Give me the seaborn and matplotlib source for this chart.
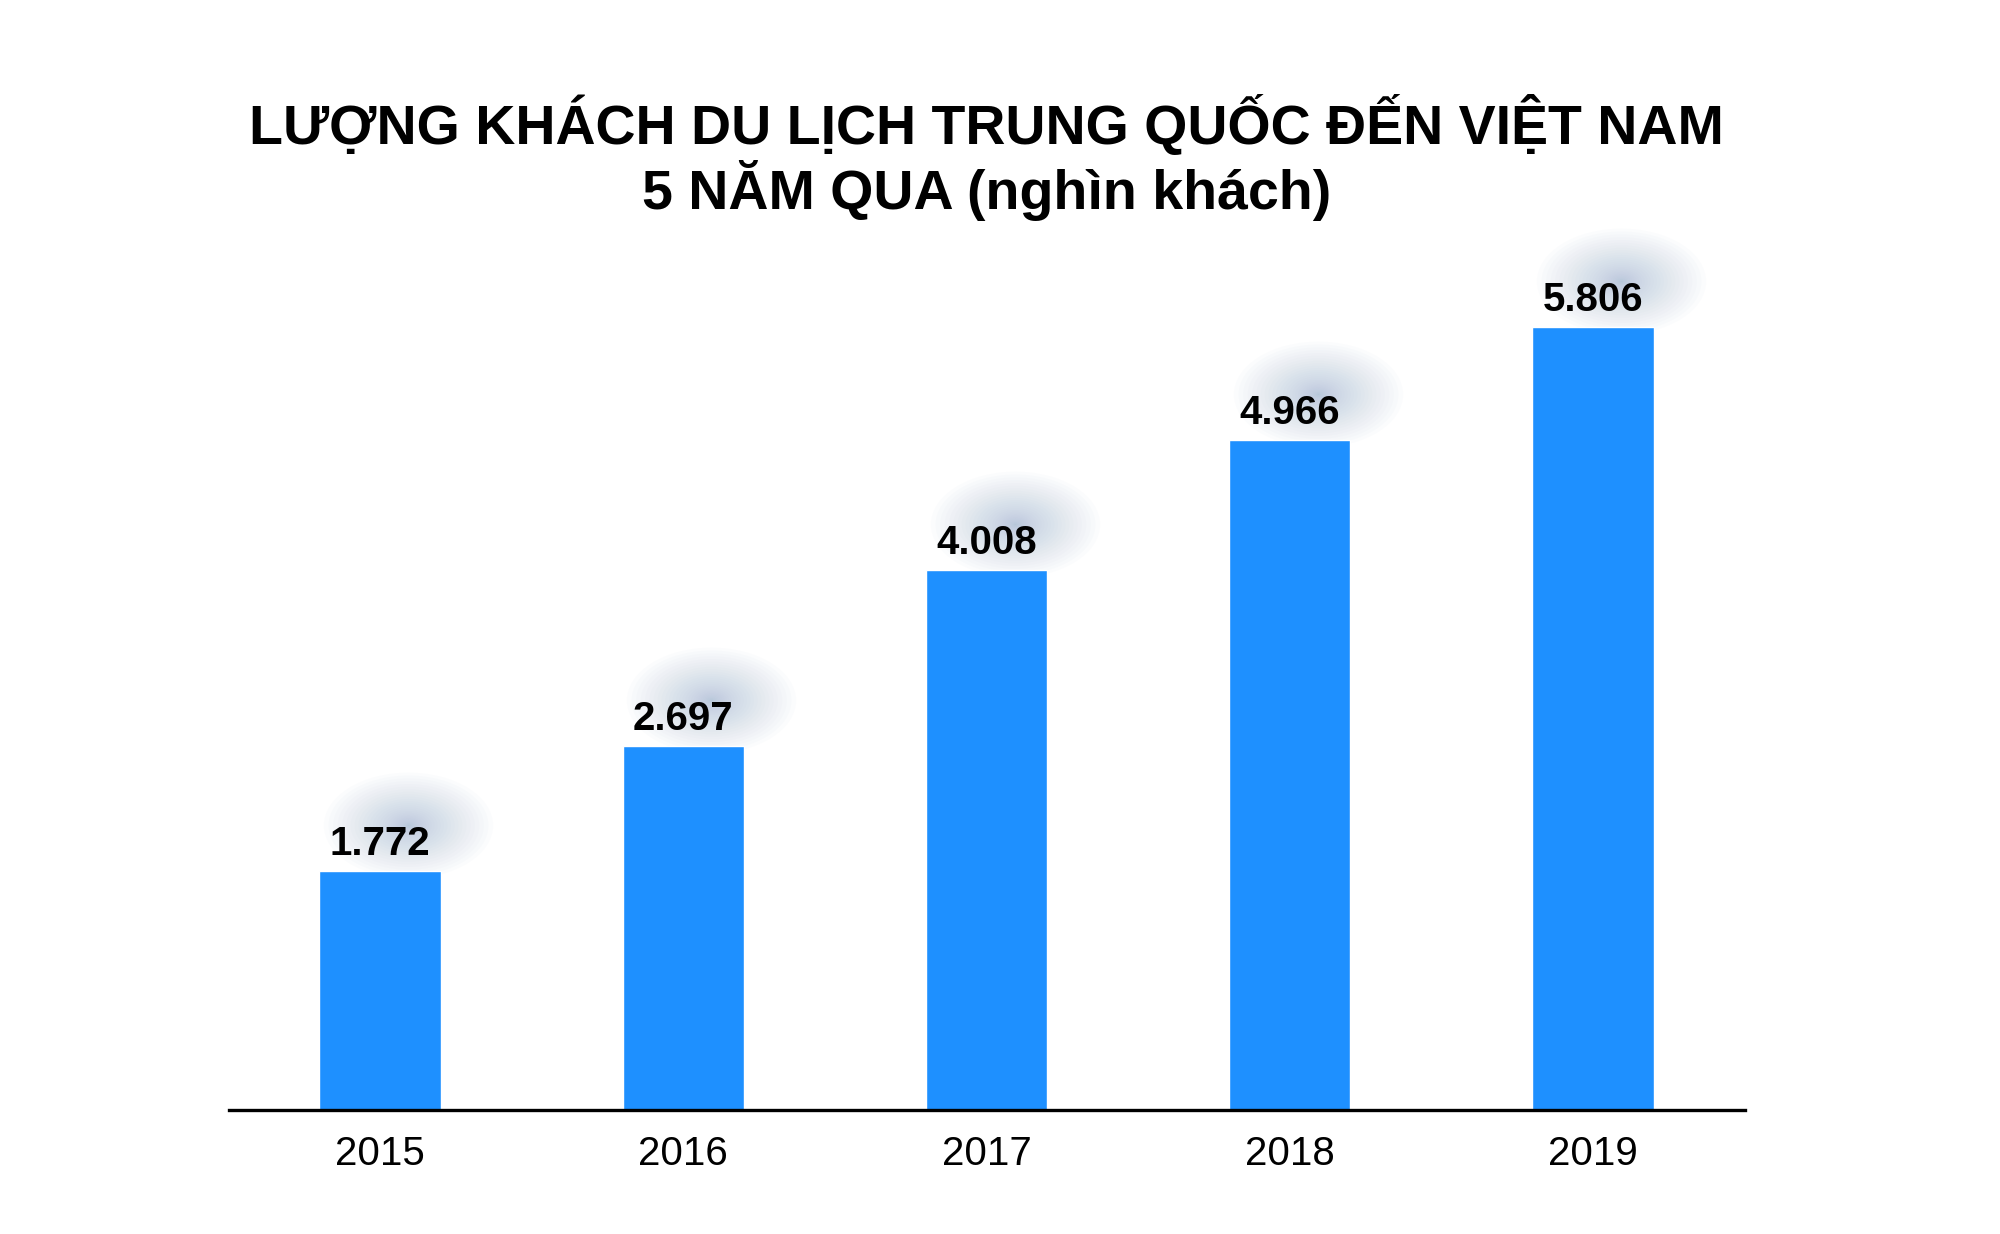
import matplotlib
matplotlib.use("Agg")
import matplotlib.pyplot as plt
import seaborn as sns
import pandas as pd
from matplotlib.path import Path
from matplotlib.transforms import Affine2D, offset_copy

# data (nghin khach)
years = ["2015", "2016", "2017", "2018", "2019"]
visitors = [1772, 2697, 4008, 4966, 5806]
value_labels = ["1.772", "2.697", "4.008", "4.966", "5.806"]

title_line1 = "LƯỢNG KHÁCH DU LỊCH TRUNG QUỐC ĐẾN VIỆT NAM"
title_line2 = "5 NĂM QUA (nghìn khách)"

sns.set_style("white")
plt.rcParams['font.family'] = ['Liberation Sans', 'DejaVu Sans']

df = pd.DataFrame({"year": years, "visitors": visitors})

fig = plt.figure(figsize=(20, 12.34), dpi=100)
ax = fig.add_axes([0.11425, 0.1005, 0.758, 0.6556])

sns.barplot(data=df, x="year", y="visitors", color="#1e90ff", width=0.4,
            saturation=1, ax=ax, zorder=2)

# soft bluish glow behind each value label (stacked faint ellipses)
ell = Path.unit_circle().transformed(Affine2D().scale(1.6, 1.0))
glow_tr = offset_copy(ax.transData, fig=fig, x=28, y=46, units='dots')
n = 30
for k in range(n):
    s = (122 * (1 - k / n) ** 1.7) ** 2
    ax.scatter(range(len(years)), visitors, s=s, marker=ell, color="#9ab2d0",
               alpha=0.03, linewidths=0, transform=glow_tr, zorder=1,
               clip_on=False)

for i, (v, lab) in enumerate(zip(visitors, value_labels)):
    ax.annotate(lab, xy=(i, v), xytext=(0, 11.5), textcoords="offset points",
                ha="center", va="baseline", fontsize=29, fontweight="bold",
                color="black", zorder=4)

ax.set_xlim(-0.5, 4.5)
ax.set_ylim(0, 6000)
ax.set_xlabel("")
ax.set_ylabel("")
ax.set_yticks([])
sns.despine(ax=ax, left=True)
ax.spines['bottom'].set_color("black")
ax.spines['bottom'].set_linewidth(2.4)
ax.spines['bottom'].set_zorder(3)
ax.tick_params(axis="x", length=0, pad=18, labelsize=29, colors="black")

cx = 0.4933
fig.text(cx, 1 - 144 / 1234, title_line1, ha="center", va="baseline",
         fontsize=40, fontweight="bold", color="black")
fig.text(cx, 1 - 209 / 1234, title_line2, ha="center", va="baseline",
         fontsize=40, fontweight="bold", color="black")

fig.savefig("out.png", dpi=100, facecolor="white")
